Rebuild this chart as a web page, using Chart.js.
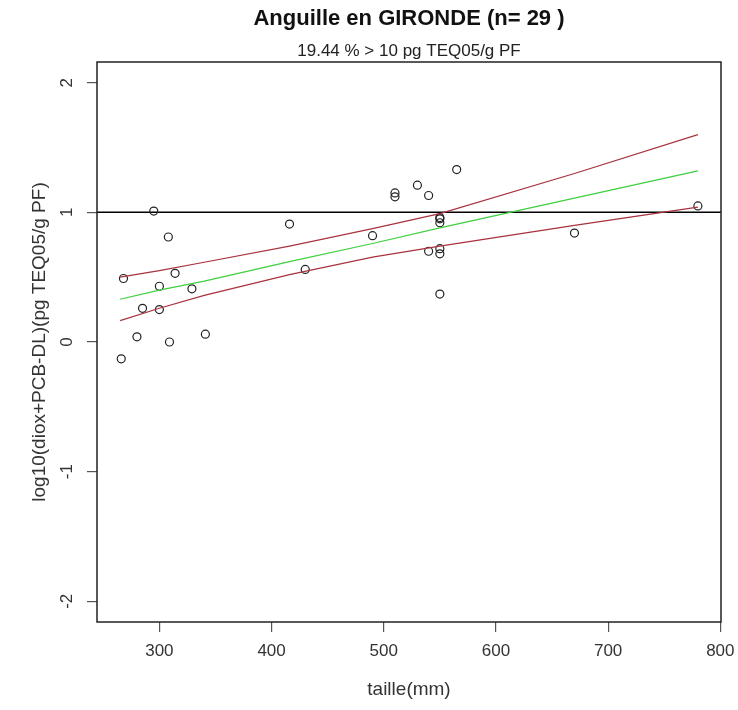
<!DOCTYPE html>
<html>
<head>
<meta charset="utf-8">
<script src="https://cdn.jsdelivr.net/npm/chart.js@4.4.0/dist/chart.umd.min.js"></script>
<style>
  html, body { margin: 0; padding: 0; background: #fff; }
</style>
</head>
<body>
<canvas id="plot" width="738" height="710"></canvas>
<script>
// valeurs
var tailleMm = [266, 268, 280, 285, 295, 300, 300, 308, 309, 314, 329, 341, 416, 430, 490,
                510, 510, 530, 540, 540, 550, 550, 550, 550, 550, 550, 565, 670, 780];
var logTeq = [-0.13, 0.49, 0.04, 0.26, 1.01, 0.43, 0.25, 0.81, 0.00, 0.53, 0.41, 0.06, 0.91, 0.56, 0.82,
              1.15, 1.12, 1.21, 1.13, 0.70, 0.96, 0.95, 0.92, 0.72, 0.68, 0.37, 1.33, 0.84, 1.05];

// droite de regression et intervalle de confiance
var lineX  = [265, 300, 340, 416, 490, 550, 670, 780];
var fitY   = [0.33, 0.40, 0.47, 0.62, 0.76, 0.88, 1.11, 1.32];
var upperY = [0.50, 0.55, 0.615, 0.74, 0.875, 0.99, 1.30, 1.60];
var lowerY = [0.165, 0.26, 0.36, 0.52, 0.655, 0.74, 0.90, 1.04];

var xTicks = [300, 400, 500, 600, 700, 800];
var yTicks = [-2, -1, 0, 1, 2];
var seuil = 1;

var FONT = "'Liberation Sans', Arial, sans-serif";

function pts(xs, ys) {
  return xs.map(function (x, i) { return { x: x, y: ys[i] }; });
}

var rPlot = {
  id: 'rPlot',
  beforeDatasetsDraw: function (chart) {
    var ctx = chart.ctx, a = chart.chartArea;
    var y = chart.scales.y.getPixelForValue(seuil);
    ctx.save();
    ctx.strokeStyle = '#000';
    ctx.lineWidth = 1.5;
    ctx.beginPath();
    ctx.moveTo(a.left, y);
    ctx.lineTo(a.right, y);
    ctx.stroke();
    ctx.restore();
  },
  afterDraw: function (chart) {
    var ctx = chart.ctx, a = chart.chartArea;
    ctx.save();
    // cadre
    ctx.strokeStyle = '#222';
    ctx.lineWidth = 1.5;
    ctx.strokeRect(a.left, a.top, a.right - a.left, a.bottom - a.top);

    // labels axe y (tournes, comme R)
    ctx.fillStyle = '#333';
    ctx.font = '17px ' + FONT;
    ctx.textAlign = 'center';
    ctx.textBaseline = 'middle';
    yTicks.forEach(function (v) {
      var py = chart.scales.y.getPixelForValue(v);
      ctx.save();
      ctx.translate(67, py);
      ctx.rotate(-Math.PI / 2);
      ctx.fillText(String(v), 0, 0);
      ctx.restore();
    });

    // titres
    var cx = (a.left + a.right) / 2;
    ctx.fillStyle = '#111';
    ctx.font = 'bold 22px ' + FONT;
    ctx.fillText('Anguille en GIRONDE (n= 29 )', cx, 19);
    ctx.fillStyle = '#222';
    ctx.font = '17px ' + FONT;
    ctx.fillText('19.44 % > 10 pg TEQ05/g PF', cx, 51);
    ctx.restore();
  }
};

new Chart(document.getElementById('plot'), {
  type: 'scatter',
  data: {
    datasets: [
      { data: pts(lineX, upperY), showLine: true, borderColor: '#a8323e', borderWidth: 1.2,
        pointRadius: 0, fill: false },
      { data: pts(lineX, lowerY), showLine: true, borderColor: '#a8323e', borderWidth: 1.2,
        pointRadius: 0, fill: false },
      { data: pts(lineX, fitY), showLine: true, borderColor: '#3fcf3f', borderWidth: 1.2,
        pointRadius: 0, fill: false },
      { data: pts(tailleMm, logTeq), pointRadius: 4, pointBorderWidth: 1.2,
        pointBorderColor: '#222', pointBackgroundColor: 'rgba(0,0,0,0)' }
    ]
  },
  options: {
    responsive: false,
    animation: false,
    layout: { padding: { top: 62, right: 17, bottom: 0, left: 0 } },
    plugins: { legend: { display: false }, tooltip: { enabled: false } },
    scales: {
      x: {
        type: 'linear',
        min: 244.4,
        max: 800.6,
        afterBuildTicks: function (s) { s.ticks = xTicks.map(function (v) { return { value: v }; }); },
        afterFit: function (s) { s.height = 88; s.paddingLeft = 0; s.paddingRight = 0; },
        grid: { drawOnChartArea: false, drawTicks: true, tickLength: 10, color: '#555', lineWidth: 1.2 },
        border: { display: false },
        ticks: { color: '#333', padding: 9, maxRotation: 0, font: { family: FONT, size: 17 } },
        title: { display: true, text: 'taille(mm)', color: '#333', padding: { bottom: 9 },
                 font: { family: FONT, size: 19 } }
      },
      y: {
        type: 'linear',
        min: -2.16,
        max: 2.16,
        afterBuildTicks: function (s) { s.ticks = yTicks.map(function (v) { return { value: v }; }); },
        afterFit: function (s) { s.width = 97; s.paddingTop = 0; s.paddingBottom = 0; },
        grid: { drawOnChartArea: false, drawTicks: true, tickLength: 10, color: '#555', lineWidth: 1.2 },
        border: { display: false },
        ticks: { display: false },
        title: { display: true, text: 'log10(diox+PCB-DL)(pg TEQ05/g PF)', color: '#333',
                 padding: { top: 28 }, font: { family: FONT, size: 19 } }
      }
    }
  },
  plugins: [rPlot]
});
</script>
</body>
</html>
